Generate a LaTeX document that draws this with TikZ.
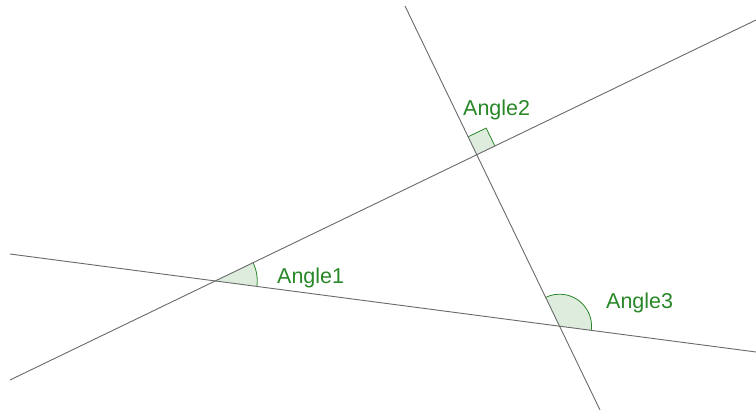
\documentclass[tikz,border=0pt]{standalone}
\usepackage{fontspec}
\setmainfont{Liberation Sans}
\usepackage{tikz}
\usetikzlibrary{angles,calc}
\usepackage{xcolor}
\definecolor{ink}{RGB}{105,105,105}
\definecolor{cAng}{RGB}{40,135,40}
\definecolor{cFill}{RGB}{222,236,222}
\tikzset{
  ln/.style={draw=ink,line width=0.9pt},
  ang/.style={draw=cAng,fill=cFill,line width=0.8pt},
  tag/.style={text=cAng,font=\fontsize{21.5}{25}\selectfont,inner sep=0pt,anchor=base west},
}

\begin{document}
\begin{tikzpicture}[x=1pt,y=-1pt]
  \useasboundingbox (0,0) rectangle (756,412);
  % end points of the three lines
  \coordinate (a1) at (10,380);
  \coordinate (a2) at (756,20);
  \coordinate (b1) at (10,254);
  \coordinate (b2) at (756,352);
  \coordinate (c1) at (405,6);
  \coordinate (c2) at (600,410);
  \coordinate (p) at (intersection of a1--a2 and b1--b2);
  \coordinate (q) at (intersection of a1--a2 and c1--c2);
  \coordinate (r) at (intersection of b1--b2 and c1--c2);
  % angle marks
  \pic[ang,angle radius=42pt] {angle=b2--p--a2};
  \pic[ang,angle radius=20pt] {right angle=a2--q--c1};
  \pic[ang,angle radius=32pt] {angle=b2--r--c1};
  \draw[ln] (a1) -- (a2);
  \draw[ln] (b1) -- (b2);
  \draw[ln] (c1) -- (c2);
  \node[tag] (t1) at (277,283) {Angle1};
  \node[tag] (t2) at (463,116) {Angle2};
  \node[tag] (t3) at (606,308) {Angle3};
\end{tikzpicture}
\end{document}
